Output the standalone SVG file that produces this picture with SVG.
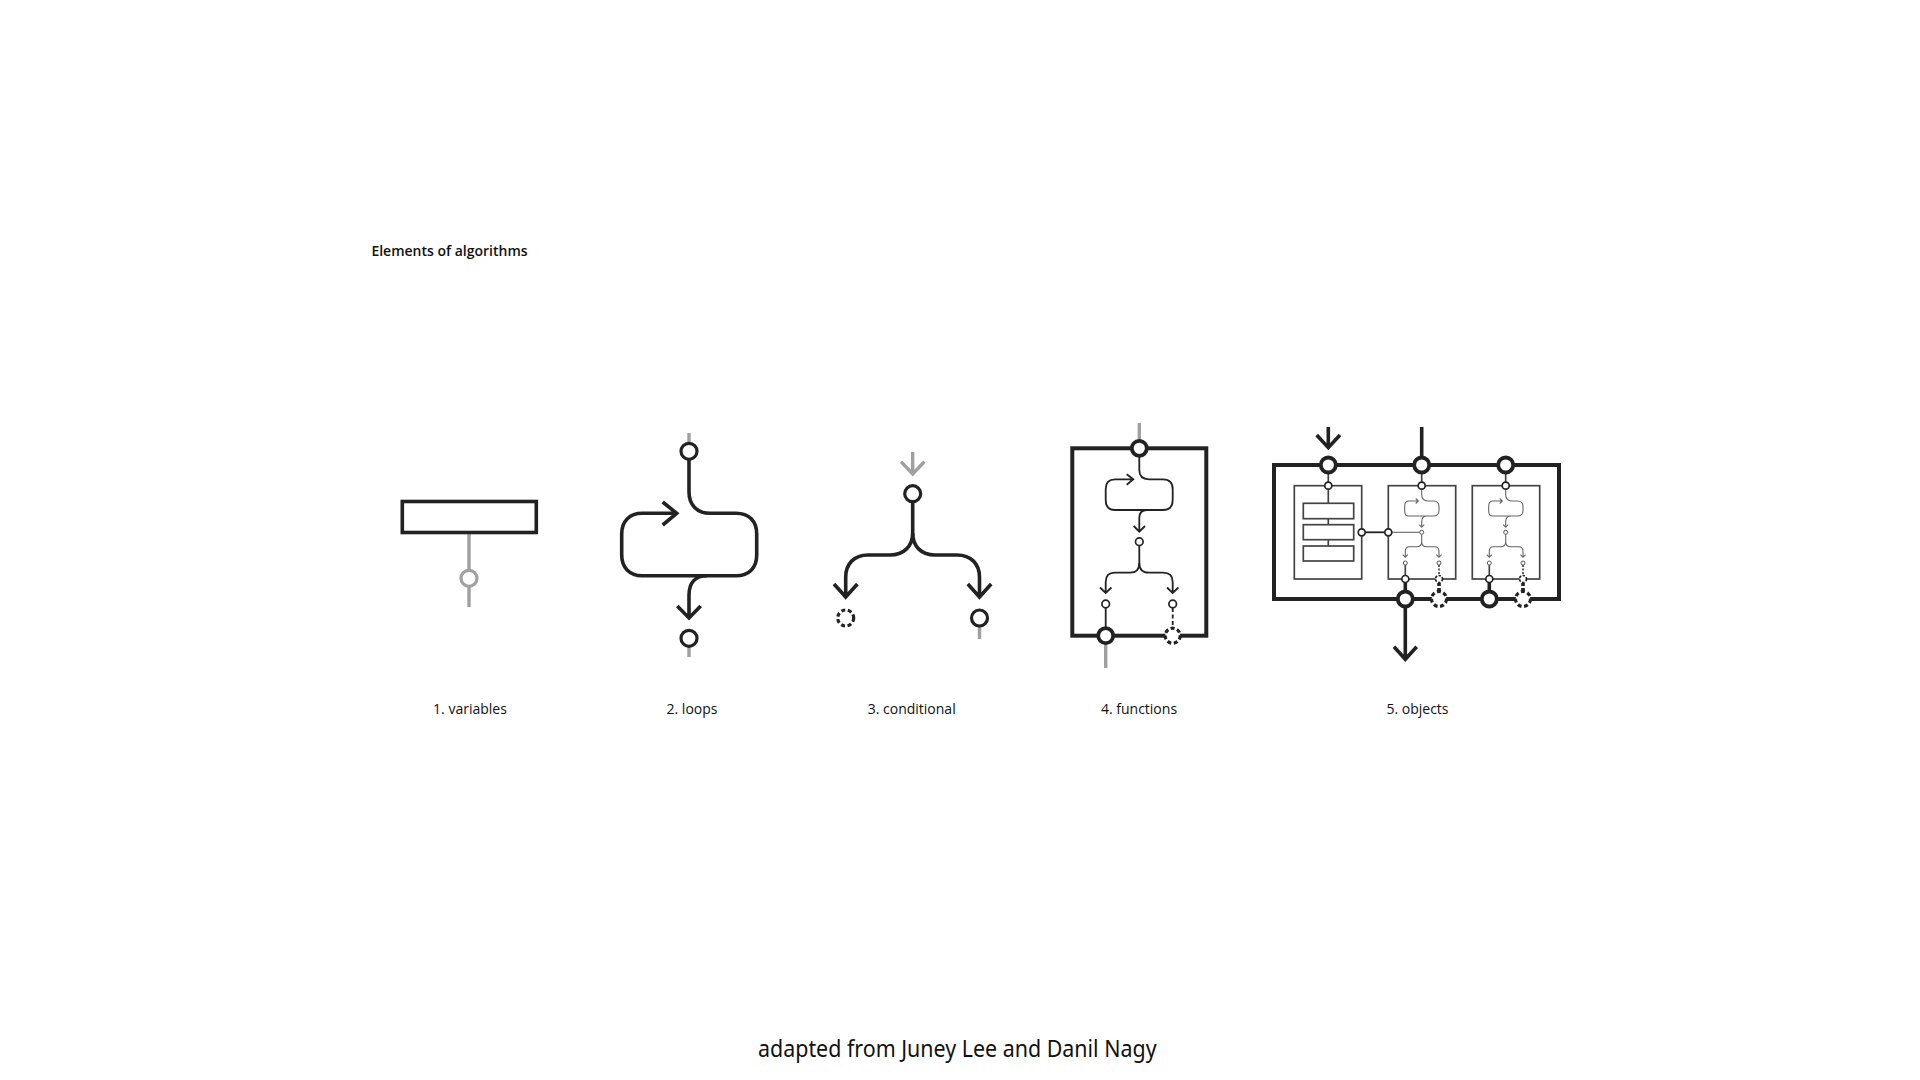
<svg xmlns="http://www.w3.org/2000/svg" width="1920" height="1080" viewBox="0 0 1920 1080">
<style>
.l{fill:none;stroke:#222;stroke-width:3.6}
.g{fill:none;stroke:#a0a0a0;stroke-width:3.4}
.b{fill:none;stroke:#222;stroke-width:4}
.t{fill:none;stroke:#222;stroke-width:1.8}
.m{fill:none;stroke:#444;stroke-width:1.7}
.f{fill:none;stroke:#666;stroke-width:1.1}
circle{fill:#fff}
.c{stroke:#222;stroke-width:3.2}
.cg{stroke:#a0a0a0;stroke-width:3.2}
.cb{stroke:#222;stroke-width:3.8}
.cd{stroke:#222;stroke-width:3.2;stroke-dasharray:4 2.6}
.s{stroke:#222;stroke-width:1.7}
.sd{stroke:#222;stroke-width:1.7;stroke-dasharray:2.4 1.5}
.x{stroke:#555;stroke-width:1}
text{font-family:"Open Sans","Noto Sans","Liberation Sans",sans-serif;fill:#111;text-anchor:middle;font-size:14px}
</style>
<defs>
<g id="mini">
<rect class="m" x="-33.4" y="0" width="67.4" height="93.3"/>
<path class="f" d="M0 0V9Q0 15.300 7 15.300H11.600Q17.300 15.300 17.300 21V24.500Q17.300 30.300 11.600 30.300H-13.400Q-17 30.300 -17 25V20.500Q-17 15.300 -13 15.300H-3.400M-6 12.800L-3.400 15.300L-6 17.800M5.500 30.300Q0 30.300 0 36V41.600M-2.500 39L0 41.600L2.500 39"/>
<path class="f" d="M0 48.800V56Q0 61 -5 61H-12.500Q-16.400 61 -16.400 66V71.600M-19 69L-16.400 71.600L-13.800 69M0 56Q0 61 5 61H13Q17.300 61 17.300 66V71.600M14.700 69L17.300 71.600L19.900 69"/>
<path class="m" d="M-16.400 79.300V90"/>
<path class="m" d="M17.300 79.300V90" stroke-dasharray="2 1.500"/>
<circle class="s" cx="0" cy="0" r="3.500"/>
<circle class="x" cx="0" cy="46.600" r="2"/>
<circle class="x" cx="-16.400" cy="77.300" r="2"/>
<circle class="x" cx="17.300" cy="77.300" r="2"/>
<circle class="s" cx="-16.400" cy="93.300" r="3.500"/>
<circle class="sd" cx="17.300" cy="93.300" r="3.500"/>
</g>
</defs>

<text x="449.500" y="255.500" style="font-weight:600">Elements of algorithms</text>

<g id="connectors">
<path class="g" d="M469 533V607"/>
<path class="g" d="M689 433V445M689 645V657"/>
<path class="l" d="M689 459V492C689 505 697 513.300 710 513.300H736C749 513.300 756.700 521 756.700 534V555C756.700 568 749 575.700 736 575.700H642C630 575.700 621.700 568 621.700 555V534C621.700 521 630 513.300 642 513.300H676.700M662.700 502L676.700 513.300L662.700 525"/>
<path class="l" d="M707 575.700C695 575.700 689 583 689 595V618M677.300 606L689 618L700.700 606"/>
<path class="g" d="M912.700 452V474M901 461.700L912.700 474L924.400 461.700"/>
<path class="l" d="M912.700 501V533C912.700 546 904 555 890 555H868C854 555 845.700 564 845.700 577V597M834 584L845.700 597L857.400 584"/>
<path class="l" d="M912.700 533C912.700 546 921 555 935 555H957C971 555 979.500 564 979.500 577V597M967.800 584L979.500 597L991.200 584"/>
<path class="g" d="M979.500 626V639"/>
<path class="g" d="M1139.300 423V440M1105.700 644V668"/>
<path class="t" d="M1139.300 457V470Q1139.300 479.300 1149 479.300H1163Q1172.700 479.300 1172.700 489V500Q1172.700 510 1163 510H1115Q1105.700 510 1105.700 500V489Q1105.700 479.300 1115 479.300H1133.300M1126.700 474.300L1133.300 479.300L1126.700 484.700"/>
<path class="t" d="M1147 510Q1139.300 510 1139.300 518V531.700M1133.700 526L1139.300 531.700L1145 526"/>
<path class="t" d="M1139.300 546V563Q1139.300 572.700 1130 572.700H1115Q1105.700 572.700 1105.700 582V593M1100 587.500L1105.700 593L1111.400 587.500"/>
<path class="t" d="M1139.300 563Q1139.300 572.700 1149 572.700H1163Q1172.700 572.700 1172.700 582V593M1167 587.500L1172.700 593L1178.400 587.500"/>
<path class="t" d="M1105.700 608V628"/>
<path class="t" d="M1172.700 608V628" stroke-dasharray="4 2.500"/>
<path class="l" d="M1328.300 427V447.700M1316.700 435L1328.300 447.700L1340 435M1421.700 427V458"/>
<path class="l" d="M1405.300 606V659.300M1394 646.700L1405.300 659.300L1416.700 646.700"/>
<path class="l" d="M1405.300 583V592M1489.300 583V592"/>
<path class="l" d="M1439 583V592M1523 583V592" stroke-dasharray="3 2"/>
<path class="m" d="M1328.300 473V482M1421.700 473V482M1505.700 473V482"/>
<path class="m" d="M1328.300 490V503.300M1328.300 518.700V524.700M1328.300 539.700V546"/>
<path d="M1365 532.300H1385" stroke="#222" stroke-width="1.800" fill="none"/>
<path class="f" d="M1392 532.300H1420"/>
</g>

<g id="n1-variables">
<rect class="l" x="402.300" y="501.500" width="134" height="31"/>
<circle class="cg" cx="469" cy="578.300" r="8"/>
<text x="470" y="713.500">1. variables</text>
</g>
<g id="n2-loops">
<circle class="c" cx="689" cy="451.300" r="8"/>
<circle class="c" cx="689" cy="638.300" r="8"/>
<text x="692" y="713.500">2. loops</text>
</g>
<g id="n3-conditional">
<circle class="c" cx="912.700" cy="493.700" r="8"/>
<circle class="cd" cx="845.700" cy="618" r="8"/>
<circle class="c" cx="979.500" cy="618" r="8"/>
<text x="911.700" y="713.500">3. conditional</text>
</g>
<g id="n4-functions">
<rect class="b" x="1072.300" y="448.300" width="134" height="187.400"/>
<circle class="cb" cx="1139.300" cy="448.300" r="7.500"/>
<circle class="s" cx="1139.300" cy="541.700" r="3.800"/>
<circle class="s" cx="1105.700" cy="604" r="3.800"/>
<circle class="s" cx="1172.700" cy="604" r="3.800"/>
<circle class="cb" cx="1105.700" cy="635.700" r="7.500"/>
<circle class="cd" cx="1172.700" cy="635.700" r="7.500"/>
<text x="1139" y="713.500">4. functions</text>
</g>
<g id="n5-objects">
<rect class="b" x="1274" y="465" width="285" height="134"/>
<g id="obj-list">
<rect class="m" x="1294.300" y="485.700" width="67.400" height="93.300"/>
<rect class="m" x="1303.300" y="503.300" width="50.400" height="15.400"/>
<rect class="m" x="1303.300" y="524.700" width="50.400" height="15"/>
<rect class="m" x="1303.300" y="546" width="50.400" height="15"/>
<circle class="s" cx="1328.300" cy="485.700" r="3.500"/>
<circle class="s" cx="1361.700" cy="532.300" r="3.500"/>
</g>
<use href="#mini" x="1421.700" y="485.700"/>
<use href="#mini" x="1505.700" y="485.700"/>
<circle class="s" cx="1388.300" cy="532.300" r="3.500"/>
<circle class="cb" cx="1328.300" cy="465" r="7.500"/>
<circle class="cb" cx="1421.700" cy="465" r="7.500"/>
<circle class="cb" cx="1505.700" cy="465" r="7.500"/>
<circle class="cb" cx="1405.300" cy="599" r="7.500"/>
<circle class="cd" cx="1439" cy="599" r="7.500"/>
<circle class="cb" cx="1489.300" cy="599" r="7.500"/>
<circle class="cd" cx="1523" cy="599" r="7.500"/>
<text x="1417.500" y="713.500">5. objects</text>
</g>
<text x="957.300" y="1057" textLength="398.600" lengthAdjust="spacingAndGlyphs" style="font-size:23.500px;font-family:'Noto Sans','Open Sans',sans-serif">adapted from Juney Lee and Danil Nagy</text>
</svg>
